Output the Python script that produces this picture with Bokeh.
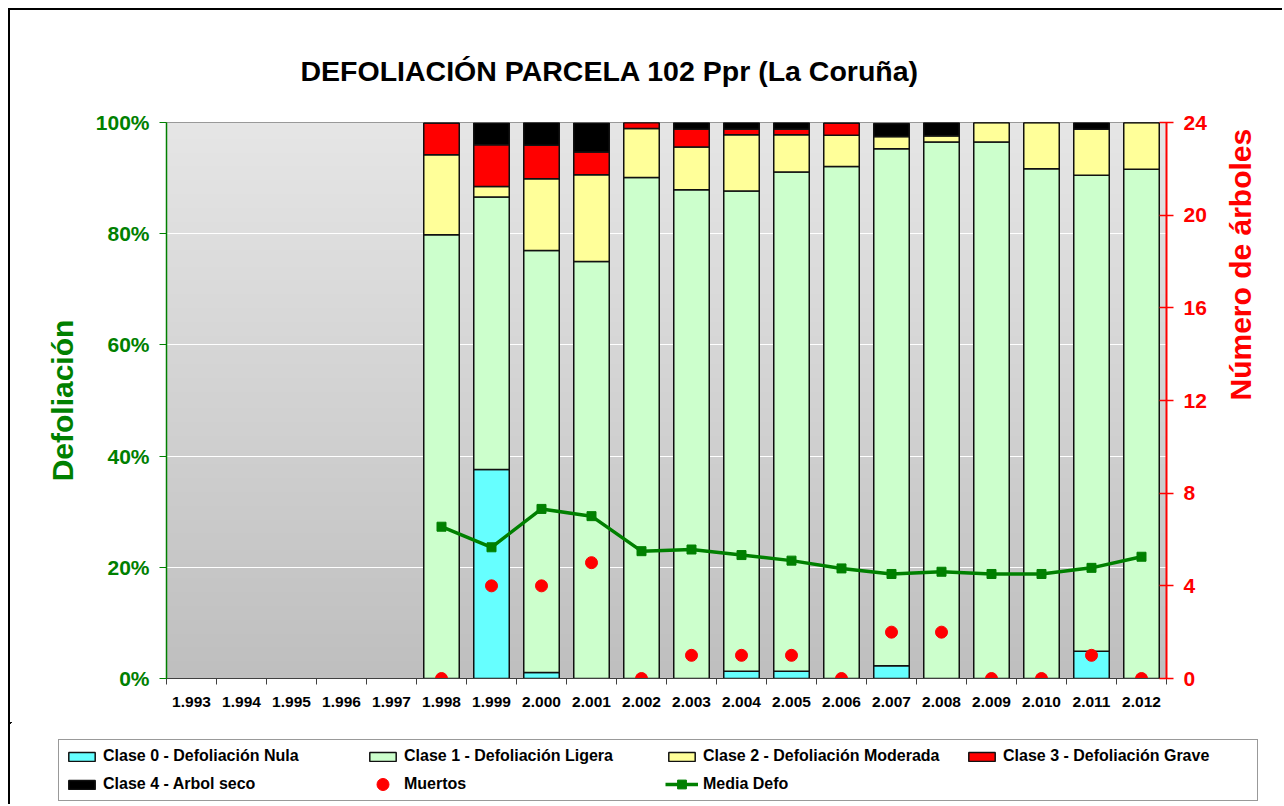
import math
import numpy as np
from bokeh.plotting import figure
from bokeh.layouts import column
from bokeh.models import (ColumnDataSource, Range1d, LinearAxis, FixedTicker,
                          Legend, LegendItem, PrintfTickFormatter)
from bokeh.embed import file_html
from bokeh.resources import INLINE

NaN = float("nan")

years = ["1.993", "1.994", "1.995", "1.996", "1.997", "1.998", "1.999", "2.000",
         "2.001", "2.002", "2.003", "2.004", "2.005", "2.006", "2.007", "2.008",
         "2.009", "2.010", "2.011", "2.012"]

# percentages per defoliation class (1993-1997 without data)
clase0 = [NaN] * 5 + [0.0, 37.6, 1.1, 0.0, 0.0, 0.0, 1.3, 1.3, 0.0, 2.3, 0.0, 0.0, 0.0, 4.9, 0.0]
clase1 = [NaN] * 5 + [79.8, 49.0, 75.9, 75.0, 90.1, 87.9, 86.4, 89.8, 92.1, 93.0, 96.5, 96.5, 91.7, 85.6, 91.6]
clase2 = [NaN] * 5 + [14.4, 1.9, 12.9, 15.6, 8.8, 7.7, 10.1, 6.7, 5.6, 2.2, 1.1, 3.5, 8.3, 8.3, 8.4]
clase3 = [NaN] * 5 + [5.7, 7.5, 6.0, 4.1, 1.1, 3.2, 1.0, 1.0, 2.2, 0.0, 0.0, 0.0, 0.0, 0.0, 0.0]
clase4 = [NaN] * 5 + [0.0, 3.9, 4.1, 5.2, 0.0, 1.2, 1.2, 1.2, 0.0, 2.3, 2.4, 0.0, 0.0, 1.2, 0.0]
media_defo = [NaN] * 5 + [27.3, 23.6, 30.5, 29.2, 22.9, 23.2, 22.2, 21.2, 19.8, 18.8, 19.2, 18.8, 18.8, 19.9, 21.9]
muertos = [NaN] * 5 + [0, 4, 4, 5, 0, 1, 1, 1, 0, 2, 2, 0, 0, 1, 0]

left_ticks = [0, 20, 40, 60, 80, 100]
right_ticks = [0, 4, 8, 12, 16, 20, 24]

names = ["Clase 0 - Defoliación Nula", "Clase 1 - Defoliación Ligera",
         "Clase 2 - Defoliación Moderada", "Clase 3 - Defoliación Grave",
         "Clase 4 - Arbol seco"]
colors = ["#66ffff", "#ccffcc", "#ffff99", "#ff0000", "#000000"]

FONT = "Liberation Sans"

n = len(years)
xc = [i + 0.5 for i in range(n)]
src = ColumnDataSource(dict(x=xc, c0=clase0, c1=clase1, c2=clase2, c3=clase3, c4=clase4,
                            media=media_defo, muertos=muertos))

W = 1272
p = figure(width=W, height=712, x_range=Range1d(0, n), y_range=Range1d(0, 100),
           output_backend="svg", toolbar_location=None,
           min_border_left=156, min_border_right=116, min_border_top=112, min_border_bottom=44,
           title="DEFOLIACIÓN PARCELA 102 Ppr (La Coruña)")
p.extra_y_ranges = {"arb": Range1d(0, 24)}

p.title.align = "left"
p.title.offset = 134
p.title.standoff = 72
p.title.text_font = FONT
p.title.text_font_size = "28.5px"
p.title.text_font_style = "bold"
p.title.text_color = "black"

p.outline_line_color = "#808080"
p.outline_line_width = 1
p.background_fill_color = "#d4d4d4"
p.border_fill_color = "white"

# gradient background of the plot area
gn = 200
t = np.linspace(0.0, 1.0, gn)
img = np.empty((gn, 1), dtype=np.uint32)
view = img.view(dtype=np.uint8).reshape((gn, 1, 4))
bot, top = 0xbf, 0xe6
vals = (bot + (top - bot) * t).astype(np.uint8)
view[:, 0, 0] = vals
view[:, 0, 1] = vals
view[:, 0, 2] = vals
view[:, 0, 3] = 255
p.image_rgba(image=[img], x=0, y=0, dw=n, dh=100, level="image")

# grid
p.xgrid.visible = False
p.ygrid.grid_line_color = "white"
p.ygrid.grid_line_width = 1
p.ygrid.ticker = FixedTicker(ticks=left_ticks)

# stacked bars
bars = p.vbar_stack(["c0", "c1", "c2", "c3", "c4"], x="x", width=0.71, source=src,
                    fill_color=colors, line_color="#111111", line_width=1.5)

# media defo line
ln = p.line("x", "media", source=src, line_color="#008000", line_width=3.5)
sq = p.scatter("x", "media", source=src, marker="square", size=9,
               fill_color="#008000", line_color="#008000")

# muertos on right axis
dots = p.scatter("x", "muertos", source=src, marker="circle", size=12,
                 fill_color="#ff0000", line_color="#ff0000", y_range_name="arb")

# x axis
xa = p.xaxis[0]
xa.ticker = FixedTicker(ticks=xc, minor_ticks=list(range(n + 1)))
xa.major_label_overrides = {xc[i]: years[i] for i in range(n)}
xa.major_tick_out = 0
xa.major_tick_in = 0
xa.minor_tick_out = 6
xa.minor_tick_in = 0
xa.minor_tick_line_color = "#404040"
xa.axis_line_color = "#404040"
xa.major_label_standoff = 12
xa.major_label_text_font = FONT
xa.major_label_text_font_size = "15.5px"
xa.major_label_text_font_style = "bold"
xa.major_label_text_color = "black"

# left axis
ya = p.yaxis[0]
ya.ticker = FixedTicker(ticks=left_ticks)
ya.formatter = PrintfTickFormatter(format="%d%%")
ya.axis_line_color = "#008000"
ya.axis_line_width = 1.5
ya.major_tick_line_color = "#008000"
ya.major_tick_out = 7
ya.major_tick_in = 0
ya.minor_tick_line_color = None
ya.major_label_standoff = 10
ya.major_label_text_font = FONT
ya.major_label_text_font_size = "21px"
ya.major_label_text_font_style = "bold"
ya.major_label_text_color = "#008000"
ya.axis_label = "Defoliación"
ya.axis_label_text_font = FONT
ya.axis_label_text_font_size = "30px"
ya.axis_label_text_font_style = "bold"
ya.axis_label_text_color = "#008000"
ya.axis_label_standoff = 14

# right axis
ra = LinearAxis(y_range_name="arb", ticker=FixedTicker(ticks=right_ticks))
ra.axis_line_color = "#ff0000"
ra.axis_line_width = 2
ra.major_tick_line_color = "#ff0000"
ra.major_tick_line_width = 1.5
ra.major_tick_out = 7
ra.major_tick_in = 7
ra.minor_tick_line_color = None
ra.major_label_standoff = 10
ra.major_label_text_font = FONT
ra.major_label_text_font_size = "21px"
ra.major_label_text_font_style = "bold"
ra.major_label_text_color = "#ff0000"
ra.axis_label = "Número de árboles"
ra.axis_label_text_font = FONT
ra.axis_label_text_font_size = "30px"
ra.axis_label_text_font_style = "bold"
ra.axis_label_text_color = "#ff0000"
ra.axis_label_standoff = 31
ra.axis_label_orientation = math.pi / 2
p.add_layout(ra, "right")

# ---- legend strip (separate figure below the chart) ----
# same renderers as the chart, but with ranges placed so that no mark is in view:
# only their legend keys are shown.
H2 = 82
lf = figure(width=W, height=H2, x_range=Range1d(1000, 1001), y_range=Range1d(-300, -200),
            output_backend="svg", toolbar_location=None,
            x_axis_location=None, y_axis_location=None,
            min_border=0, min_border_left=0, min_border_right=0,
            min_border_top=0, min_border_bottom=0)
lf.extra_y_ranges = {"arb": Range1d(-300, -200)}
lf.grid.visible = False
lf.outline_line_color = None
lf.background_fill_color = "white"
lf.border_fill_color = "white"
for fig in (p, lf):
    try:
        fig.frame_align = False
    except Exception:
        pass

key_bars = lf.vbar_stack(["c0", "c1", "c2", "c3", "c4"], x="x", width=0.71, source=src,
                         fill_color=colors, line_color="#111111", line_width=1.5)
key_ln = lf.line("x", "media", source=src, line_color="#008000", line_width=3.5)
key_sq = lf.scatter("x", "media", source=src, marker="square", size=9,
                    fill_color="#008000", line_color="#008000")
key_dot = lf.scatter("x", "muertos", source=src, marker="circle", size=12,
                     fill_color="#ff0000", line_color="#ff0000", y_range_name="arb")


def make_legend(items, loc, border=False, gh=11):
    lg = Legend(items=items, location=loc, orientation="vertical",
                padding=6, spacing=8, margin=0,
                glyph_width=33, glyph_height=gh, label_standoff=5, label_height=20,
                label_text_font=FONT, label_text_font_size="16px",
                label_text_font_style="bold", label_text_color="black")
    if border:
        lg.border_line_color = "#333333"
        lg.border_line_width = 1.5
        lg.background_fill_color = "white"
        lg.background_fill_alpha = 1.0
        lg.label_width = 1148
    else:
        lg.border_line_color = None
        lg.background_fill_alpha = 0.0
    return lg


legends = [
    make_legend([LegendItem(label=names[0], renderers=[key_bars[0]]),
                 LegendItem(label=names[4], renderers=[key_bars[4]])], (48, 3), border=True),
    make_legend([LegendItem(label=names[1], renderers=[key_bars[1]])], (356, 38)),
    make_legend([LegendItem(label="Muertos", renderers=[key_dot])], (356, 5), gh=30),
    make_legend([LegendItem(label=names[2], renderers=[key_bars[2]])], (655, 38)),
    make_legend([LegendItem(label="Media Defo", renderers=[key_ln, key_sq])], (655, 9), gh=22),
    make_legend([LegendItem(label=names[3], renderers=[key_bars[3]])], (955, 38)),
]
for lg in legends:
    lf.add_layout(lg)

layout = column(p, lf, spacing=0,
                styles={"margin-left": "8px", "margin-top": "8px",
                        "border-left": "2px solid black", "border-top": "2px solid black"})

open("out.html", "w").write(file_html(layout, INLINE))
